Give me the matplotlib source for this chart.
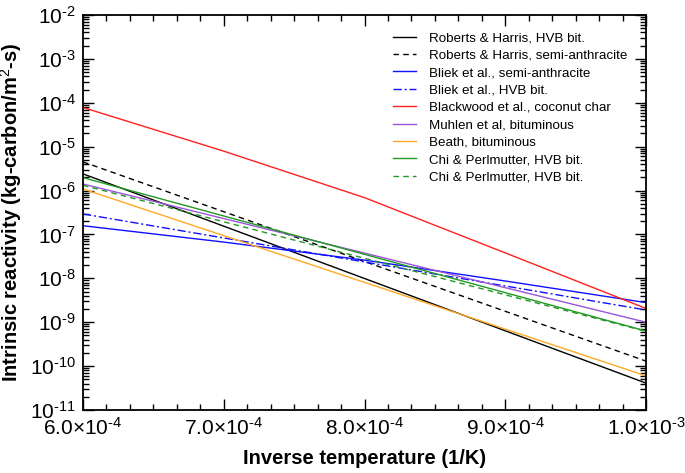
import numpy as np
import matplotlib
matplotlib.use("Agg")
import matplotlib.pyplot as plt
from matplotlib.ticker import LogLocator, MultipleLocator, FuncFormatter, NullFormatter

plt.rcParams['font.family'] = ['Liberation Sans', 'DejaVu Sans']
plt.rcParams['mathtext.fontset'] = 'custom'
plt.rcParams['mathtext.rm'] = 'Liberation Sans'
plt.rcParams['mathtext.it'] = 'Liberation Sans:italic'
plt.rcParams['mathtext.bf'] = 'Liberation Sans:bold'

# Inverse temperature (1/K) where each series was read
inv_t = [6.0e-4, 7.0e-4, 8.0e-4, 9.0e-4, 1.0e-3]
inv_t_ends = [6.0e-4, 1.0e-3]

# Intrinsic reactivity (kg-carbon/m2-s)
roberts_hvb = [2.4e-6, 4.1e-11]
roberts_semi = [4.5e-6, 1.3e-10]
bliek_semi = [1.58e-7, 6.7e-8, 2.6e-8, 8.7e-9, 2.8e-9]
bliek_hvb = [2.93e-7, 1.9e-9]
blackwood = [7.8e-5, 7.9e-6, 6.9e-7, 3.8e-8, 2.06e-9]
muhlen = [1.41e-6, 1.0e-9]
beath = [1.09e-6, 6.0e-11]
chi_1 = [1.97e-6, 6.3e-10]
chi_2 = [1.32e-6, 6.2e-10]

labels = [
    "Roberts & Harris, HVB bit.",
    "Roberts & Harris, semi-anthracite",
    "Bliek et al., semi-anthracite",
    "Bliek et al., HVB bit.",
    "Blackwood et al., coconut char",
    "Muhlen et al, bituminous",
    "Beath, bituminous",
    "Chi & Perlmutter, HVB bit.",
    "Chi & Perlmutter, HVB bit.",
]

fig = plt.figure(figsize=(6.85, 4.73), dpi=100)
ax = fig.add_axes([83 / 685, 1 - 410 / 473, 563 / 685, 395 / 473])

lw = 1.0
ax.plot(inv_t_ends, roberts_hvb, color='black', lw=lw, label=labels[0])
ax.plot(inv_t_ends, roberts_semi, color='black', lw=lw, dashes=(4, 3), label=labels[1])
ax.plot(inv_t, bliek_semi, color='#1010ff', lw=lw, label=labels[2])
ax.plot(inv_t_ends, bliek_hvb, color='#1010ff', lw=lw, dashes=(6, 2, 1.5, 2), label=labels[3])
ax.plot(inv_t, blackwood, color='#ff2020', lw=lw, label=labels[4])
ax.plot(inv_t_ends, muhlen, color='#9a55d8', lw=lw, label=labels[5])
ax.plot(inv_t_ends, beath, color='#ffaa22', lw=lw, label=labels[6])
ax.plot(inv_t_ends, chi_1, color='#229922', lw=lw, label=labels[7])
ax.plot(inv_t_ends, chi_2, color='#229922', lw=lw, dashes=(4, 3), label=labels[8])

ax.set_yscale('log')
ax.set_xlim(6.0e-4, 1.0e-3)
ax.set_ylim(1e-11, 1e-2)

ax.xaxis.set_major_locator(MultipleLocator(1e-4))
ax.xaxis.set_minor_locator(MultipleLocator(1e-4 / 6))


def exp_str(e):
    # hyphen instead of the wide mathtext minus, as in the original
    if e < 0:
        return "$^{\\text{-}" + str(-e) + "}$"
    return "$^{" + str(e) + "}$"


def sci_fmt(v, pos):
    e = int(np.floor(np.log10(v) + 1e-9))
    m = v / 10 ** e
    return f"{m:.1f}\u00d710" + exp_str(e)


def pow_fmt(v, pos):
    e = int(round(np.log10(v)))
    return "10" + exp_str(e)


ax.xaxis.set_major_formatter(FuncFormatter(sci_fmt))
ax.yaxis.set_major_locator(LogLocator(base=10, numticks=20))
ax.yaxis.set_major_formatter(FuncFormatter(pow_fmt))
ax.yaxis.set_minor_locator(LogLocator(base=10, subs=np.arange(2, 10), numticks=20))
ax.yaxis.set_minor_formatter(NullFormatter())

ax.tick_params(which='both', direction='in', top=True, right=True, width=1.0)
ax.tick_params(which='major', length=8, labelsize=15, pad=5)
ax.tick_params(which='minor', length=4.5)
for s in ax.spines.values():
    s.set_linewidth(1.3)

ax.set_xlabel("Inverse temperature (1/K)", fontsize=14.5, fontweight='bold', labelpad=7)
ax.set_ylabel("Intrinsic reactivity (kg-carbon/m$^2$-s)", fontsize=14.5, fontweight='bold', labelpad=4)

ax.legend(loc='upper left', bbox_to_anchor=((393 - 83) / 563, (410 - 32) / 395),
          frameon=False, fontsize=9.6, handlelength=1.73, handletextpad=1.0,
          labelspacing=0.38, borderpad=0, borderaxespad=0)

fig.savefig("out.png", dpi=100)
plt.close('all')
